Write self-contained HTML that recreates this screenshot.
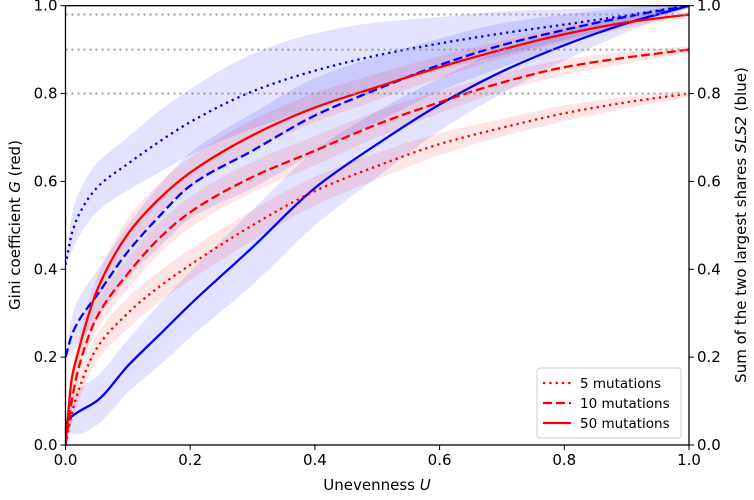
<!DOCTYPE html>
<html><head><meta charset="utf-8"><style>
body{margin:0;background:#fff}
svg text{font-family:"DejaVu Sans","Liberation Sans",sans-serif;font-size:15px;fill:#000}
</style></head><body>
<svg id="c" width="754" height="495" xmlns="http://www.w3.org/2000/svg"></svg>
<script>
const uVals=[0,0.01,0.02,0.05,0.1,0.15,0.2,0.3,0.4,0.5,0.6,0.7,0.8,0.9,1.0];
const g50=[0,0.15,0.21,0.35,0.48,0.56,0.62,0.705,0.768,0.815,0.86,0.9,0.935,0.962,0.98];
const g10=[0,0.1,0.17,0.29,0.39,0.47,0.53,0.61,0.67,0.73,0.78,0.825,0.86,0.882,0.9];
const g5=[0,0.07,0.12,0.22,0.3,0.36,0.41,0.5,0.578,0.635,0.685,0.722,0.755,0.78,0.8];
const s5=[0.41,0.48,0.52,0.585,0.64,0.69,0.735,0.805,0.852,0.887,0.914,0.937,0.957,0.978,1.0];
const s10=[0.2,0.25,0.28,0.34,0.44,0.52,0.59,0.67,0.75,0.81,0.865,0.91,0.945,0.975,1.0];
const s50=[0.05,0.065,0.075,0.1,0.18,0.25,0.32,0.45,0.585,0.685,0.775,0.85,0.91,0.96,1.0];
const redBand=[0,0.02,0.025,0.03,0.035,0.035,0.035,0.035,0.033,0.03,0.025,0.02,0.018,0.013,0.008];
const blueBand=[0,0.04,0.05,0.055,0.06,0.07,0.075,0.085,0.085,0.075,0.06,0.05,0.035,0.02,0.005];
const xTicks=[0,0.2,0.4,0.6,0.8,1.0];
const yTicks=[0,0.2,0.4,0.6,0.8,1.0];
const refLines=[0.98,0.9,0.8];
const L=65.5,R=689,T=5.7,B=445;
const X=v=>L+(R-L)*v, Y=v=>B-(B-T)*v;
const svg=document.getElementById('c');
const NS='http://www.w3.org/2000/svg';
function mk(t,a,p){const e=document.createElementNS(NS,t);for(const k in a)e.setAttribute(k,a[k]);(p||svg).appendChild(e);return e;}
function smooth(P,noMove){
  const n=P.length, h=[], d=[], m=[];
  for(let i=0;i<n-1;i++){h[i]=P[i+1][0]-P[i][0];d[i]=(P[i+1][1]-P[i][1])/h[i];}
  m[0]=d[0];m[n-1]=d[n-2];
  for(let k=1;k<n-1;k++){
    if(d[k-1]*d[k]<=0){m[k]=0;continue;}
    const a=Math.abs(h[k-1]),b=Math.abs(h[k]);
    const w1=2*b+a,w2=b+2*a;
    m[k]=(w1+w2)/(w1/d[k-1]+w2/d[k]);
  }
  let s=noMove?'':'M'+P[0][0].toFixed(1)+','+P[0][1].toFixed(1);
  for(let i=0;i<n-1;i++){
    const c1=[P[i][0]+h[i]/3,P[i][1]+m[i]*h[i]/3];
    const c2=[P[i+1][0]-h[i]/3,P[i+1][1]-m[i+1]*h[i]/3];
    s+=' C'+c1.map(v=>v.toFixed(1))+' '+c2.map(v=>v.toFixed(1))+' '+P[i+1].map(v=>v.toFixed(1));
  }
  return s;
}
const clip=mk('clipPath',{id:'cl'});mk('rect',{x:L,y:T,width:R-L,height:B-T},clip);
const g=mk('g',{'clip-path':'url(#cl)'});
function bandG(arr,w,col,name){
  const up=uVals.map((u,i)=>[X(u),Y(arr[i]+w[i])]);
  const lo=uVals.map((u,i)=>[X(u),Y(Math.max(0,arr[i]-w[i]))]).reverse();
  const d=smooth(up)+' L'+lo[0][0].toFixed(1)+','+lo[0][1].toFixed(1)+smooth(lo,true)+' Z';
  const p=mk('path',{d:d,fill:col},g);
  
  
}
bandG(s5,blueBand,'rgba(0,0,255,0.11)','band-sls2-5');
bandG(s10,blueBand,'rgba(0,0,255,0.11)','band-sls2-10');
bandG(s50,blueBand,'rgba(0,0,255,0.11)','band-sls2-50');
bandG(g5,redBand,'rgba(255,0,0,0.1)','band-gini-5');
bandG(g10,redBand,'rgba(255,0,0,0.1)','band-gini-10');
bandG(g50,redBand,'rgba(255,0,0,0.1)','band-gini-50');
refLines.forEach(v=>{
  const l=mk('line',{x1:L,x2:R,y1:Y(v),y2:Y(v),stroke:'#999','stroke-width':2,'stroke-dasharray':'2,4'});
  
  
});
function line(arr,col,dash,name){
  const P=uVals.map((u,i)=>[X(u),Y(Math.min(1,arr[i]))]);
  const p=mk('path',{d:smooth(P),fill:'none',stroke:col,'stroke-width':2.3,'stroke-dasharray':dash,'stroke-linejoin':'round'},g);
  
  
}
line(s5,'#0000ff','2.3,4','sls2-5-mutations');
line(s10,'#0000ff','9,4','sls2-10-mutations');
line(s50,'#0000ff','none','sls2-50-mutations');
line(g5,'#ff0000','2.3,4','gini-5-mutations');
line(g10,'#ff0000','9,4','gini-10-mutations');
line(g50,'#ff0000','none','gini-50-mutations');
const fr=mk('rect',{x:L,y:T,width:R-L,height:B-T,fill:'none',stroke:'#000','stroke-width':1.3});

xTicks.forEach(v=>{
  mk('line',{x1:X(v),x2:X(v),y1:B,y2:B+5,stroke:'#000'});
  const t=mk('text',{x:X(v),y:B+20,'text-anchor':'middle'});t.textContent=v.toFixed(1);
  
});
yTicks.forEach(v=>{
  mk('line',{x1:L-5,x2:L,y1:Y(v),y2:Y(v),stroke:'#000'});
  mk('line',{x1:R,x2:R+5,y1:Y(v),y2:Y(v),stroke:'#000'});
  const t=mk('text',{x:L-8,y:Y(v)+5,'text-anchor':'end'});t.textContent=v.toFixed(1);
  
  const t2=mk('text',{x:R+8,y:Y(v)+5});t2.textContent=v.toFixed(1);
  
});
</script>
<svg width="754" height="495" style="position:absolute;left:0;top:0" xmlns="http://www.w3.org/2000/svg">
<text x="377" y="490" text-anchor="middle">Unevenness <tspan font-style="italic">U</tspan></text>
<text transform="translate(20,225) rotate(-90)" text-anchor="middle">Gini coefficient <tspan font-style="italic">G</tspan> (red)</text>
<text transform="translate(746,225) rotate(-90)" text-anchor="middle">Sum of the two largest shares <tspan font-style="italic">SLS2</tspan> (blue)</text>
<g>
<rect x="537" y="368" width="144" height="70" rx="3" fill="#fff" fill-opacity="0.85" stroke="#ccc"/>
<line x1="543" x2="571" y1="383" y2="383" stroke="#f00" stroke-width="2.3" stroke-dasharray="2.3,4"/>
<text x="580" y="388" style="font-size:13.5px">5 mutations</text>
<line x1="543" x2="571" y1="403" y2="403" stroke="#f00" stroke-width="2.3" stroke-dasharray="9,4"/>
<text x="580" y="408" style="font-size:13.5px">10 mutations</text>
<line x1="543" x2="571" y1="423" y2="423" stroke="#f00" stroke-width="2.3"/>
<text x="580" y="428" style="font-size:13.5px">50 mutations</text>
</g>
</svg>
</body></html>
